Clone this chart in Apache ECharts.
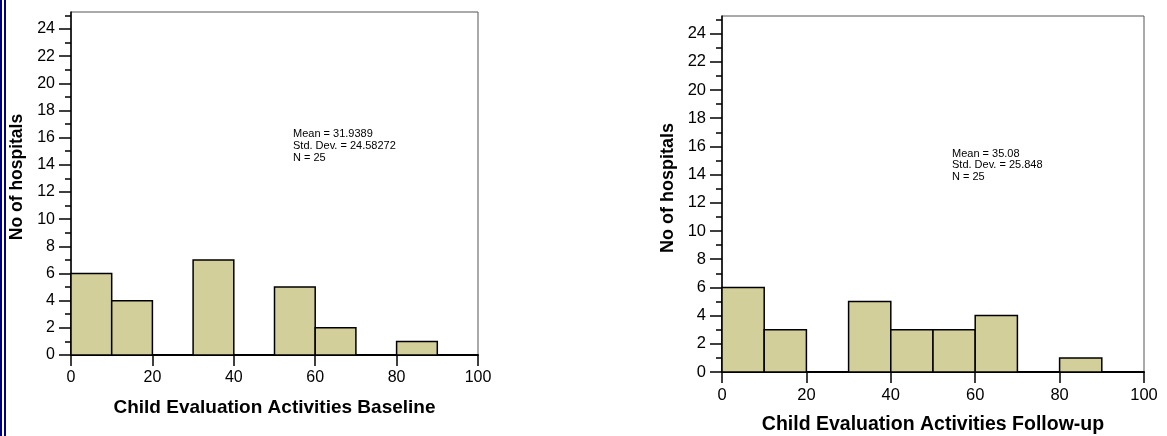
<!DOCTYPE html>
<html>
<head>
<meta charset="utf-8">
<script src="https://cdn.jsdelivr.net/npm/echarts@6/dist/echarts.min.js"></script>
<style>
html,body{margin:0;padding:0;background:#fff;}
#chart{width:1167px;height:436px;}
</style>
</head>
<body>
<div id="chart"></div>
<script>
// ---- data ----
const binStarts = [0, 10, 20, 30, 40, 50, 60, 70, 80, 90];
const binWidth = 10;
const baselineCounts = [6, 4, 0, 7, 0, 5, 2, 0, 1, 0];
const followupCounts = [6, 3, 0, 5, 3, 3, 4, 0, 1, 0];
const yMajorTicks = [0, 2, 4, 6, 8, 10, 12, 14, 16, 18, 20, 22, 24];
const yMinorTicks = [0, 1, 2, 3, 4, 5, 6, 7, 8, 9, 10, 11, 12, 13, 14, 15, 16, 17, 18, 19, 20, 21, 22, 23, 24, 25];
const xTickLabels = [0, 20, 40, 60, 80, 100];
const yTitle = 'No of hospitals';
const xTitles = ['Child Evaluation Activities Baseline', 'Child Evaluation Activities Follow-up'];
const statsText = [
  ['Mean = 31.9389', 'Std. Dev. = 24.58272', 'N = 25'],
  ['Mean = 35.08', 'Std. Dev. = 25.848', 'N = 25']
];

const FONT = '"Liberation Sans", Arial, sans-serif';
const BAR_FILL = '#d3cf9a';

function histData(counts) {
  return binStarts.map((s, i) => [s, s + binWidth, counts[i]]).filter(d => d[2] > 0);
}

const grids = [
  {left: 71, top: 12, width: 407, height: 343},
  {left: 722, top: 16, width: 422, height: 356}
];
const fs = [{tick: 16, title: 19, ytitle: 17.5, pad: 13}, {tick: 16.5, title: 19.5, ytitle: 18, pad: 12}];

const option = {
  backgroundColor: '#fff',
  animation: false,
  grid: grids.map(g => Object.assign({
    show: true, borderColor: '#555', borderWidth: 1, containLabel: false, outerBoundsMode: 'none'
  }, g)),
  xAxis: [0, 1].map(i => ({
    type: 'value', gridIndex: i, min: 0, max: 100, interval: 20,
    axisLine: {show: true, lineStyle: {color: '#000', width: 2}},
    axisTick: {show: true, length: 11, lineStyle: {color: '#000', width: 1.5}},
    axisLabel: {show: true, margin: 15, fontSize: fs[i].tick, color: '#000', fontFamily: FONT,
      customValues: xTickLabels},
    splitLine: {show: false},
    name: xTitles[i], nameLocation: 'middle', nameGap: 43,
    nameTextStyle: {fontSize: fs[i].title, fontWeight: 'bold', color: '#000', fontFamily: FONT}
  })),
  yAxis: [0, 1].flatMap(i => [
    {
      type: 'value', gridIndex: i, min: 0, max: 25.25, position: 'left',
      axisLine: {show: true, lineStyle: {color: '#000', width: 1.5}},
      axisTick: {show: true, length: 6, customValues: yMinorTicks, lineStyle: {color: '#000', width: 1.5}},
      axisLabel: {show: false},
      splitLine: {show: false}
    },
    {
      type: 'value', gridIndex: i, min: 0, max: 25.25, position: 'left',
      axisLine: {show: false},
      axisTick: {show: true, length: 12, customValues: yMajorTicks, lineStyle: {color: '#000', width: 1.5}},
      axisLabel: {show: true, margin: 16, fontSize: fs[i].tick, color: '#000', fontFamily: FONT,
        customValues: yMajorTicks},
      splitLine: {show: false},
      name: yTitle, nameLocation: 'middle', nameGap: 45, nameRotate: 90,
      nameTextStyle: {fontSize: fs[i].ytitle, fontWeight: 'bold', color: '#000', fontFamily: FONT,
        padding: [0, 0, 0, fs[i].pad]}
    }
  ]),
  series: [baselineCounts, followupCounts].map((counts, i) => ({
    type: 'custom',
    xAxisIndex: i, yAxisIndex: i * 2,
    data: histData(counts),
    encode: {x: [0, 1], y: 2},
    clip: false,
    renderItem: function (params, api) {
      const p0 = api.coord([api.value(0), api.value(2)]);
      const p1 = api.coord([api.value(1), 0]);
      return {
        type: 'rect',
        shape: {x: p0[0], y: p0[1], width: p1[0] - p0[0], height: p1[1] - p0[1]},
        style: {fill: BAR_FILL, stroke: '#000', lineWidth: 1.5}
      };
    }
  })),
  graphic: [
    {type: 'rect', left: 0, top: 0, shape: {width: 2, height: 436}, style: {fill: '#000080'}},
    {type: 'rect', left: 4, top: 0, shape: {width: 2, height: 436}, style: {fill: '#000080'}},
    {type: 'text', left: 293, top: 128,
      style: {text: statsText[0].join('\n'), fontSize: 11, lineHeight: 12, fill: '#000', fontFamily: FONT}},
    {type: 'text', left: 952, top: 148,
      style: {text: statsText[1].join('\n'), fontSize: 11, lineHeight: 11.5, fill: '#000', fontFamily: FONT}}
  ]
};

const chart = echarts.init(document.getElementById('chart'), null, {renderer: 'canvas'});
chart.setOption(option);
</script>
</body>
</html>
